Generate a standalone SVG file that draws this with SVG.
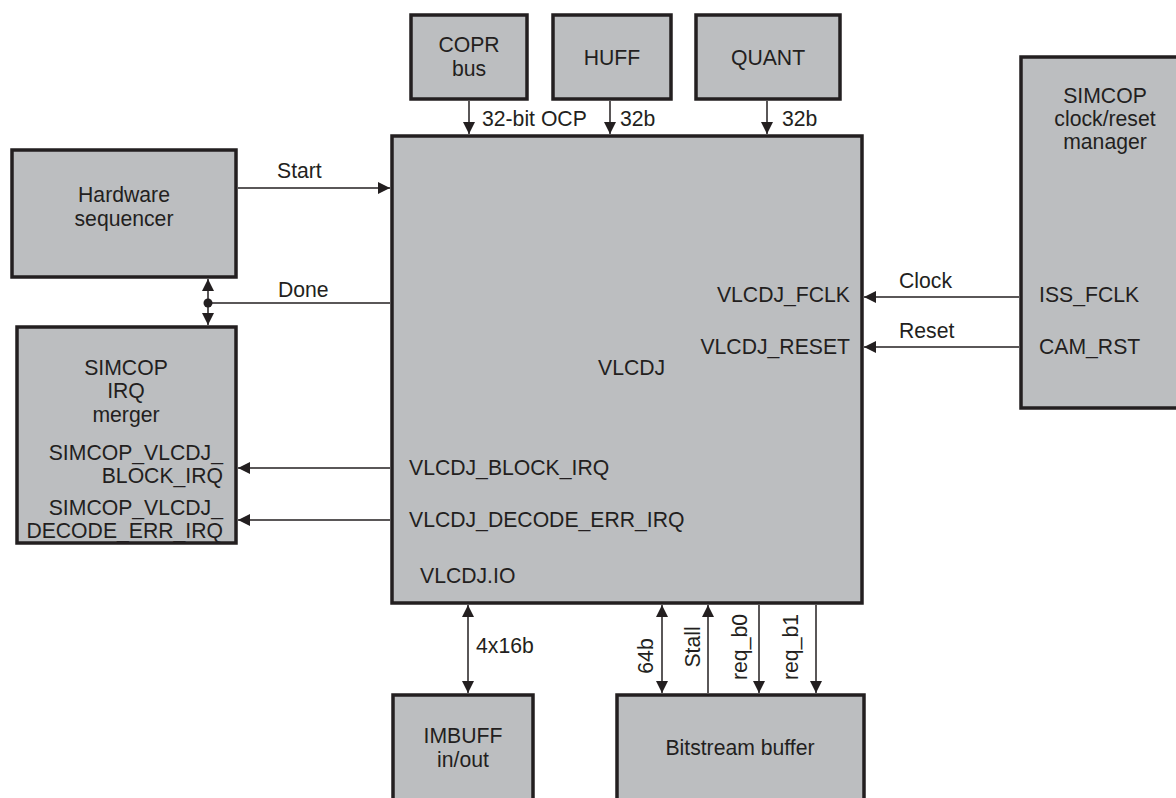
<svg xmlns="http://www.w3.org/2000/svg" width="1176" height="798" viewBox="0 0 1176 798">
<style>
.box{fill:#bcbec0;stroke:#231f20;stroke-width:3.5}
.t{font-family:"Liberation Sans",Arial,sans-serif;font-size:21.2px;fill:#231f20}
.c{text-anchor:middle}
.e{text-anchor:end}
.ln{stroke:#231f20;stroke-width:1.5;fill:none}
</style>
<defs>
<marker id="ah" markerUnits="userSpaceOnUse" markerWidth="12" markerHeight="12" viewBox="0 0 12 12" refX="12" refY="6" orient="auto-start-reverse">
<path d="M0,0 L12,6 L0,12 z" fill="#231f20"/>
</marker>
</defs>
<rect width="1176" height="798" fill="#fff"/>
<g id="connectors">
<line class="ln" x1="469" y1="101" x2="469" y2="134" marker-end="url(#ah)"/>
<line class="ln" x1="610" y1="101" x2="610" y2="134" marker-end="url(#ah)"/>
<line class="ln" x1="767" y1="101" x2="767" y2="134" marker-end="url(#ah)"/>
<line class="ln" x1="238" y1="188" x2="390" y2="188" marker-end="url(#ah)"/>
<line class="ln" x1="208" y1="303" x2="390" y2="303"/>
<line class="ln" x1="208" y1="279" x2="208" y2="325" marker-start="url(#ah)" marker-end="url(#ah)"/>
<circle cx="208" cy="303" r="4.5" fill="#231f20"/>
<line class="ln" x1="390" y1="468" x2="238" y2="468" marker-end="url(#ah)"/>
<line class="ln" x1="390" y1="520" x2="238" y2="520" marker-end="url(#ah)"/>
<line class="ln" x1="1019" y1="297" x2="864" y2="297" marker-end="url(#ah)"/>
<line class="ln" x1="1019" y1="347" x2="864" y2="347" marker-end="url(#ah)"/>
<line class="ln" x1="468" y1="605" x2="468" y2="693" marker-start="url(#ah)" marker-end="url(#ah)"/>
<line class="ln" x1="662" y1="605" x2="662" y2="693" marker-start="url(#ah)" marker-end="url(#ah)"/>
<line class="ln" x1="708" y1="693" x2="708" y2="605" marker-end="url(#ah)"/>
<line class="ln" x1="759" y1="605" x2="759" y2="693" marker-end="url(#ah)"/>
<line class="ln" x1="816" y1="605" x2="816" y2="693" marker-end="url(#ah)"/>
<text class="t" x="482" y="126">32-bit OCP</text>
<text class="t" x="620" y="126">32b</text>
<text class="t" x="782" y="126">32b</text>
<text class="t" x="277" y="178">Start</text>
<text class="t" x="278" y="297">Done</text>
<text class="t" x="899" y="288">Clock</text>
<text class="t" x="899" y="338">Reset</text>
<text class="t" x="476" y="653">4x16b</text>
<text class="t c" transform="translate(653,656) rotate(-90)">64b</text>
<text class="t c" transform="translate(700,647) rotate(-90)">Stall</text>
<text class="t c" transform="translate(747,647) rotate(-90)">req_b0</text>
<text class="t c" transform="translate(798,647) rotate(-90)">req_b1</text>
</g>
<g id="copr">
<rect class="box" x="411" y="15" width="116" height="84"/>
<text class="t c" x="469" y="52">COPR</text>
<text class="t c" x="469" y="76">bus</text>
</g>
<g id="huff">
<rect class="box" x="553" y="15" width="118" height="84"/>
<text class="t c" x="612" y="65">HUFF</text>
</g>
<g id="quant">
<rect class="box" x="696" y="15" width="144" height="84"/>
<text class="t c" x="768" y="65">QUANT</text>
</g>
<g id="vlcdj">
<rect class="box" x="392" y="136" width="470" height="467"/>
<text class="t" x="598" y="375">VLCDJ</text>
<text class="t e" x="850" y="302">VLCDJ_FCLK</text>
<text class="t e" x="850" y="354">VLCDJ_RESET</text>
<text class="t" x="409" y="475">VLCDJ_BLOCK_IRQ</text>
<text class="t" x="409" y="527">VLCDJ_DECODE_ERR_IRQ</text>
<text class="t" x="420" y="583">VLCDJ.IO</text>
</g>
<g id="hwseq">
<rect class="box" x="12" y="150" width="224" height="127"/>
<text class="t c" x="124" y="202">Hardware</text>
<text class="t c" x="124" y="226">sequencer</text>
</g>
<g id="irqmerger">
<rect class="box" x="17" y="327" width="219" height="216"/>
<text class="t c" x="126" y="375">SIMCOP</text>
<text class="t c" x="126" y="398">IRQ</text>
<text class="t c" x="126" y="422">merger</text>
<text class="t e" x="223" y="460">SIMCOP_VLCDJ_</text>
<text class="t e" x="223" y="483">BLOCK_IRQ</text>
<text class="t e" x="223" y="515">SIMCOP_VLCDJ_</text>
<text class="t e" x="223" y="538">DECODE_ERR_IRQ</text>
</g>
<g id="clkmgr">
<rect class="box" x="1021" y="57" width="170" height="351"/>
<text class="t c" x="1105" y="103">SIMCOP</text>
<text class="t c" x="1105" y="126">clock/reset</text>
<text class="t c" x="1105" y="149">manager</text>
<text class="t" x="1039" y="302">ISS_FCLK</text>
<text class="t" x="1039" y="354">CAM_RST</text>
</g>
<g id="imbuff">
<rect class="box" x="393" y="695" width="140" height="120"/>
<text class="t c" x="463" y="743">IMBUFF</text>
<text class="t c" x="463" y="767">in/out</text>
</g>
<g id="bitstream">
<rect class="box" x="617" y="695" width="247" height="120"/>
<text class="t c" x="740" y="755">Bitstream buffer</text>
</g>
</svg>
